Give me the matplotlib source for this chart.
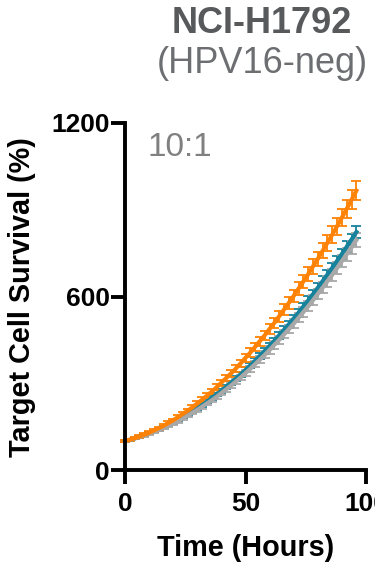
import matplotlib
matplotlib.use("Agg")
import matplotlib.pyplot as plt

plt.rcParams['font.family'] = ['Liberation Sans', 'DejaVu Sans']

hours = list(range(0, 97, 2))

orange_mean = [100, 105, 110, 116, 122, 129, 137, 145, 153, 163, 172, 183, 194, 205, 217, 230, 243,
               257, 271, 286, 302, 318, 334, 351, 369, 388, 406, 426, 446, 466, 488, 509, 532,
               555, 578, 602, 627, 652, 677, 704, 730, 758, 786, 814, 843, 873, 903, 934, 966]
orange_err = [3.5, 3.7, 3.8, 4.1, 4.3, 4.5, 4.8, 5.1, 5.4, 5.7, 6.0, 6.4, 6.8, 7.2, 7.6, 8.0, 8.5,
              9.0, 9.5, 10.0, 10.6, 11.1, 11.7, 12.3, 12.9, 13.6, 14.2, 14.9, 15.6, 16.3, 17.1, 17.8,
              18.6, 19.4, 20.2, 21.1, 21.9, 22.8, 23.7, 24.6, 25.6, 26.5, 27.5, 28.5, 29.5, 30.6,
              31.6, 32.7, 33.8]

teal_mean = [100, 104, 109, 115, 120, 127, 133, 140, 148, 156, 164, 173, 183, 193, 203, 214, 225,
             236, 249, 261, 274, 288, 302, 316, 331, 346, 362, 378, 395, 412, 429, 447, 466,
             485, 504, 524, 544, 565, 586, 608, 630, 653, 676, 699, 723, 747, 772, 797, 823]
teal_err = [2.5, 2.6, 2.7, 2.9, 3.0, 3.2, 3.3, 3.5, 3.7, 3.9, 4.1, 4.3, 4.6, 4.8, 5.1, 5.3, 5.6,
            5.9, 6.2, 6.5, 6.9, 7.2, 7.5, 7.9, 8.3, 8.7, 9.0, 9.4, 9.9, 10.3, 10.7, 11.2, 11.6,
            12.1, 12.6, 13.1, 13.6, 14.1, 14.7, 15.2, 15.7, 16.3, 16.9, 17.5, 18.1, 18.7, 19.3,
            19.9, 20.6]

grey_mean = [100, 104, 109, 114, 119, 125, 131, 138, 145, 153, 161, 169, 178, 188, 198, 208, 219,
             230, 241, 253, 266, 279, 292, 306, 320, 335, 350, 366, 382, 398, 415, 433, 450,
             469, 487, 506, 526, 546, 566, 587, 609, 630, 653, 675, 698, 722, 746, 770, 795]
grey_err = [3.0, 3.1, 3.3, 3.4, 3.6, 3.7, 3.9, 4.1, 4.4, 4.6, 4.8, 5.1, 5.4, 5.6, 5.9, 6.2, 6.6,
            6.9, 7.2, 7.6, 8.0, 8.4, 8.8, 9.2, 9.6, 10.1, 10.5, 11.0, 11.5, 11.9, 12.5, 13.0, 13.5,
            14.1, 14.6, 15.2, 15.8, 16.4, 17.0, 17.6, 18.3, 18.9, 19.6, 20.3, 20.9, 21.7, 22.4,
            23.1, 23.9]

x_ticks = [0, 50, 100]
y_ticks = [0, 600, 1200]

W, H = 375, 573
fig = plt.figure(figsize=(W / 100, H / 100), dpi=100)
ax = fig.add_axes([125 / W, 1 - 470 / H, 241 / W, 347 / H])

series = [
    (teal_mean, teal_err, '#17829C'),
    (grey_mean, grey_err, '#A8A8A8'),
    (orange_mean, orange_err, '#FF8205'),
]
for mean, err, col in series:
    ax.errorbar(hours, mean, yerr=err, color=col, lw=3, elinewidth=1.3,
                capsize=3.5, capthick=1.3, clip_on=False)

ax.set_xlim(0, 100)
ax.set_ylim(0, 1200)
ax.set_xticks(x_ticks)
ax.set_yticks(y_ticks)
for s in ['top', 'right']:
    ax.spines[s].set_visible(False)
for s in ['left', 'bottom']:
    ax.spines[s].set_linewidth(2.8)
ax.tick_params(axis='both', length=10, width=2.8, labelsize=19)
ax.tick_params(axis='y', pad=1)
ax.tick_params(axis='x', pad=6)
for lab in ax.get_xticklabels() + ax.get_yticklabels():
    lab.set_fontweight('bold')

ax.text(9.5, 1085, '10:1', fontsize=24, color='#808080', ha='left', va='baseline')

fig.text(262 / W, 1 - 33 / H, 'NCI-H1792', fontsize=26, fontweight='bold',
         color='#58595B', ha='center', va='baseline')
fig.text(262 / W, 1 - 73 / H, '(HPV16-neg)', fontsize=26,
         color='#6D6E71', ha='center', va='baseline')
fig.text(22 / W, 1 - 297 / H, 'Target Cell Survival (%)', fontsize=20.8, fontweight='bold',
         rotation=90, ha='center', va='center')
fig.text(245.5 / W, 1 - 556 / H, 'Time (Hours)', fontsize=20.8, fontweight='bold',
         ha='center', va='baseline')

fig.savefig('out.png', dpi=100)
